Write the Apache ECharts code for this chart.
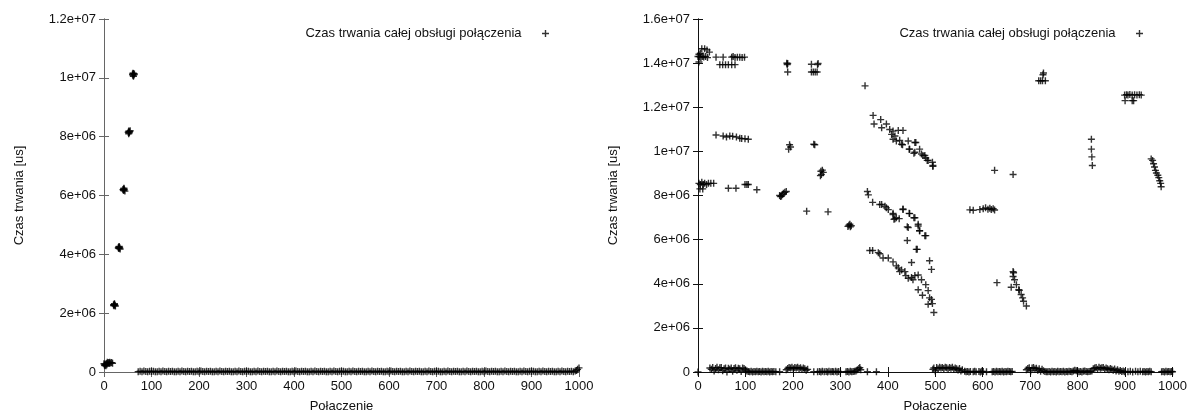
<!DOCTYPE html>
<html>
<head>
<meta charset="utf-8">
<script src="https://cdn.jsdelivr.net/npm/echarts@6/dist/echarts.min.js"></script>
<style>
  html, body { margin: 0; padding: 0; background: #fff; }
  #chart { width: 1190px; height: 418px; }
</style>
</head>
<body>
<div id="chart"></div>
<script>
// series name and axis titles
const seriesName = 'Czas trwania całej obsługi połączenia'
const xTitle = 'Połaczenie'
const yTitle = 'Czas trwania [us]'

// left plot: y axis 0 .. 1.2e7, right plot: 0 .. 1.6e7
const leftYMax = 1.2e7
const rightYMax = 1.6e7

// left plot - the first ~65 connections grow in steps, the rest stay near zero
const leftHigh = [
  [0, 2.8e5], [1, 2.4e5], [2, 2.2e5], [3, 2.6e5], [4, 2.1e5], [5, 2.9e5], [6, 2.5e5], [8, 3.0e5],
  [10, 3.2e5], [12, 3.3e5], [14, 3.1e5], [16, 3.2e5], [18, 3.0e5], [7, 3.3e5], [11, 2.9e5],
  [20, 2.28e6], [21, 2.25e6], [22, 2.3e6], [23, 2.27e6], [24, 2.24e6], [22, 2.32e6], [21, 2.29e6],
  [30, 4.22e6], [31, 4.25e6], [32, 4.2e6], [33, 4.23e6], [34, 4.18e6], [32, 4.27e6], [31, 4.21e6],
  [40, 6.2e6], [41, 6.17e6], [42, 6.22e6], [43, 6.19e6], [44, 6.15e6], [42, 6.25e6], [41, 6.21e6],
  [51, 8.15e6], [52, 8.19e6], [53, 8.13e6], [54, 8.17e6], [55, 8.2e6], [52, 8.1e6], [53, 8.16e6],
  [60, 1.012e7], [61, 1.008e7], [62, 1.015e7], [63, 1.01e7], [64, 1.013e7], [62, 1.005e7], [61, 1.016e7]
]
const leftLow = [
  [72,12000],[76,25000],[80,8000],[84,30000],[88,18000],[92,5000],[96,22000],[100,15000],[104,28000],[108,10000],
  [112,12000],[116,25000],[120,8000],[124,30000],[128,18000],[132,5000],[136,22000],[140,15000],[144,28000],[148,10000],
  [152,12000],[156,25000],[160,8000],[164,30000],[168,18000],[172,5000],[176,22000],[180,15000],[184,28000],[188,10000],
  [192,12000],[196,25000],[200,8000],[204,30000],[208,18000],[212,5000],[216,22000],[220,15000],[224,28000],[228,10000],
  [232,12000],[236,25000],[240,8000],[244,30000],[248,18000],[252,5000],[256,22000],[260,15000],[264,28000],[268,10000],
  [272,12000],[276,25000],[280,8000],[284,30000],[288,18000],[292,5000],[296,22000],[300,15000],[304,28000],[308,10000],
  [312,12000],[316,25000],[320,8000],[324,30000],[328,18000],[332,5000],[336,22000],[340,15000],[344,28000],[348,10000],
  [352,12000],[356,25000],[360,8000],[364,30000],[368,18000],[372,5000],[376,22000],[380,15000],[384,28000],[388,10000],
  [392,12000],[396,25000],[400,8000],[404,30000],[408,18000],[412,5000],[416,22000],[420,15000],[424,28000],[428,10000],
  [432,12000],[436,25000],[440,8000],[444,30000],[448,18000],[452,5000],[456,22000],[460,15000],[464,28000],[468,10000],
  [472,12000],[476,25000],[480,8000],[484,30000],[488,18000],[492,5000],[496,22000],[500,15000],[504,28000],[508,10000],
  [512,12000],[516,25000],[520,8000],[524,30000],[528,18000],[532,5000],[536,22000],[540,15000],[544,28000],[548,10000],
  [552,12000],[556,25000],[560,8000],[564,30000],[568,18000],[572,5000],[576,22000],[580,15000],[584,28000],[588,10000],
  [592,12000],[596,25000],[600,8000],[604,30000],[608,18000],[612,5000],[616,22000],[620,15000],[624,28000],[628,10000],
  [632,12000],[636,25000],[640,8000],[644,30000],[648,18000],[652,5000],[656,22000],[660,15000],[664,28000],[668,10000],
  [672,12000],[676,25000],[680,8000],[684,30000],[688,18000],[692,5000],[696,22000],[700,15000],[704,28000],[708,10000],
  [712,12000],[716,25000],[720,8000],[724,30000],[728,18000],[732,5000],[736,22000],[740,15000],[744,28000],[748,10000],
  [752,12000],[756,25000],[760,8000],[764,30000],[768,18000],[772,5000],[776,22000],[780,15000],[784,28000],[788,10000],
  [792,12000],[796,25000],[800,8000],[804,30000],[808,18000],[812,5000],[816,22000],[820,15000],[824,28000],[828,10000],
  [832,12000],[836,25000],[840,8000],[844,30000],[848,18000],[852,5000],[856,22000],[860,15000],[864,28000],[868,10000],
  [872,12000],[876,25000],[880,8000],[884,30000],[888,18000],[892,5000],[896,22000],[900,15000],[904,28000],[908,10000],
  [912,12000],[916,25000],[920,8000],[924,30000],[928,18000],[932,5000],[936,22000],[940,15000],[944,28000],[948,10000],
  [952,12000],[956,25000],[960,8000],[964,30000],[968,18000],[972,5000],[976,22000],[980,15000],[984,28000],[988,10000],
  [992,30000],[995,50000],[997,90000],[1000,140000]
]

// right plot - scattered durations
const rightHigh = [
  // top-left cluster ~1.4e7
  [0,1.43e7],[3,1.43e7],[6,1.425e7],[9,1.43e7],[12,1.428e7],[16,1.43e7],[20,1.425e7],[2,1.44e7],[5,1.445e7],[2,1.405e7],
  [8,1.465e7],[14,1.465e7],[19,1.46e7],[24,1.45e7],
  [38,1.427e7],[53,1.427e7],[71,1.427e7],[74,1.43e7],[78,1.425e7],[83,1.427e7],[88,1.427e7],[93,1.425e7],[98,1.427e7],
  [46,1.393e7],[52,1.393e7],[58,1.393e7],[64,1.393e7],[71,1.393e7],[78,1.393e7],
  [187,1.40e7],[188,1.393e7],[189,1.398e7],[189,1.36e7],
  [239,1.395e7],[253,1.398e7],[252,1.393e7],[239,1.36e7],[243,1.36e7],[247,1.36e7],[251,1.36e7],
  [352,1.297e7],
  [727,1.347e7],[728,1.355e7],[718,1.32e7],[722,1.32e7],[726,1.32e7],[732,1.32e7],
  [899,1.255e7],[903,1.257e7],[906,1.255e7],[910,1.258e7],[915,1.255e7],[920,1.257e7],[925,1.255e7],[930,1.257e7],[934,1.255e7],
  [900,1.23e7],[915,1.23e7],[918,1.23e7],
  // band ~1.06e7
  [38,1.074e7],[53,1.07e7],[60,1.065e7],[67,1.07e7],[73,1.068e7],[81,1.065e7],[88,1.06e7],[92,1.058e7],[99,1.057e7],[106,1.055e7],
  [193,1.03e7],[195,1.02e7],[191,1.01e7],[244,1.032e7],[246,1.03e7],
  [259,9.1e6],[262,9.15e6],[260,8.95e6],[264,9.05e6],[258,8.9e6],
  // band ~8.4e6
  [2,8.55e6],[5,8.5e6],[8,8.6e6],[11,8.5e6],[14,8.55e6],[18,8.5e6],[22,8.55e6],[27,8.55e6],[33,8.55e6],[4,8.3e6],[10,8.3e6],
  [64,8.33e6],[80,8.33e6],[99,8.5e6],[103,8.5e6],[106,8.5e6],[124,8.26e6],
  [172,8.0e6],[174,7.95e6],[176,7.98e6],[178,8.05e6],[180,8.1e6],[183,8.15e6],[186,8.18e6],
  [229,7.29e6],[274,7.26e6],
  [316,6.6e6],[318,6.65e6],[320,6.7e6],[321,6.58e6],[323,6.63e6],
  // upper falling line
  [369,1.163e7],[385,1.144e7],[397,1.124e7],[371,1.124e7],[387,1.107e7],[404,1.099e7],[411,1.092e7],[422,1.095e7],[432,1.095e7],
  [408,1.077e7],[415,1.07e7],[425,1.05e7],[443,1.047e7],[459,1.04e7],[431,1.03e7],[445,1.01e7],[455,9.91e6],[467,1.01e7],
  [474,9.81e6],[480,9.7e6],[483,9.59e6],[494,9.51e6],[495,9.32e6],
  [411,1.055e7],[418,1.047e7],[429,1.032e7],[446,1.01e7],[457,1.04e7],[457,9.96e6],[471,9.88e6],[478,9.81e6],[485,9.59e6],[495,9.36e6],
  // middle falling line
  [357,8.18e6],[359,8.03e6],[368,7.69e6],[387,7.59e6],[394,7.51e6],[401,7.36e6],[411,7.19e6],[418,6.99e6],[413,6.92e6],[424,6.95e6],
  [432,7.36e6],[445,7.19e6],[455,6.99e6],[464,6.7e6],[467,6.4e6],[480,6.18e6],[441,6.58e6],[441,5.96e6],[462,5.56e6],
  [383,7.59e6],[397,7.44e6],[411,7.14e6],[415,6.95e6],[432,7.39e6],[446,7.18e6],[457,6.99e6],[464,6.62e6],[467,6.4e6],[478,6.18e6],
  [443,6.55e6],[460,5.56e6],[450,4.96e6],[488,5.04e6],[492,4.65e6],
  // lower falling line
  [362,5.51e6],[368,5.51e6],[380,5.41e6],[383,5.36e6],[390,5.17e6],[401,5.17e6],[411,4.99e6],[418,4.81e6],[422,4.72e6],[425,4.55e6],
  [429,4.62e6],[436,4.55e6],[438,4.37e6],[443,4.25e6],[450,4.28e6],[453,4.18e6],[457,4.37e6],[464,4.4e6],[471,4.18e6],[480,3.96e6],
  [464,3.73e6],[473,3.48e6],[485,3.69e6],[488,3.36e6],[492,3.29e6],[485,3.07e6],[494,3.1e6],[497,2.7e6],
  // 570 .. 700
  [573,7.35e6],[580,7.33e6],[594,7.36e6],[601,7.4e6],[606,7.44e6],[611,7.38e6],[615,7.42e6],[618,7.36e6],[622,7.4e6],[625,7.34e6],
  [625,9.14e6],[664,8.95e6],[630,4.05e6],[660,3.84e6],
  [664,4.55e6],[665,4.5e6],[664,4.33e6],[667,4.18e6],[671,3.96e6],[676,3.73e6],[677,3.7e6],[681,3.51e6],[684,3.36e6],[686,3.21e6],[692,2.99e6],
  // 800 .. 1000
  [829,1.055e7],[829,1.01e7],[830,9.75e6],[831,9.36e6],
  [955,9.66e6],[958,9.59e6],[960,9.44e6],[962,9.29e6],[964,9.14e6],[966,9.02e6],[969,8.92e6],[971,8.81e6],[973,8.67e6],[975,8.55e6],[976,8.4e6]
]
const rightLow = [
  [0,0],[25,1.8e5],[28,1.2e5],[31,2e5],[34,5e4],[37,1.6e5],[40,2.1e5],[43,1e5],[46,1.9e5],[49,2e5],[52,6e4],[55,1.5e5],[58,1.8e5],
  [61,0],[64,1.7e5],[67,1.2e5],[70,1.8e5],[73,3e4],[76,1.6e5],[79,1.9e5],[82,8e4],[85,1.7e5],[88,1.5e5],[91,2e4],[94,1.8e5],
  [97,1.6e5],[100,1e5],[103,5e4],
  [106,2e4],[109,1e4],[112,3e4],[115,0],[118,2e4],[121,1e4],[124,3e4],[127,1e4],[130,2e4],[133,0],[136,3e4],[139,1e4],
  [142,2e4],[145,1e4],[148,3e4],[151,0],[154,2e4],[157,1e4],[160,2e4],[164,1e4],[172,1e4],
  [186,1e5],[189,1.6e5],[192,2e5],[195,1.8e5],[198,2.1e5],[201,1.5e5],[204,2e5],[207,1.8e5],[210,2.1e5],[213,1.6e5],
  [216,1.9e5],[219,1.3e5],[222,1.8e5],[225,1.5e5],[228,8e4],[231,1.2e5],[244,1e4],
  [252,1e4],[256,2e4],[259,0],[262,3e4],[266,1e4],[270,2e4],[273,0],[276,3e4],[280,1e4],[283,2e4],[286,1e4],[290,3e4],
  [293,0],[296,2e4],[300,1e4],
  [312,1e4],[315,2e4],[318,0],[321,3e4],[324,1e4],[327,2e4],[330,3e4],[333,5e4],[336,1e5],[339,1.6e5],[341,2e5],[343,1e5],
  [357,1e4],[376,1e4],
  [495,1.2e5],[497,1.8e5],[500,5e4],[503,2e5],[506,1.5e5],[509,2.1e5],[512,1.8e5],[515,2e5],[518,1.6e5],[521,2.1e5],
  [524,1.9e5],[527,1.4e5],[530,2e5],[533,1.7e5],[536,2.1e5],[539,1.2e5],[542,1.8e5],[545,1.5e5],[548,9e4],[551,1.6e5],
  [554,5e4],[557,1e5],
  [562,3e4],[565,1e4],[568,2e4],[571,0],[574,2e4],[580,1e4],[583,3e4],[586,1e4],[592,2e4],[595,0],[598,3e4],[601,2e4],[608,1e4],
  [620,1e4],[623,2e4],[626,0],[629,3e4],[632,1e4],[635,2e4],[638,1e4],[641,3e4],[644,0],[647,2e4],[650,1e4],[653,3e4],
  [656,2e4],[659,1e4],[662,2e4],
  [692,1e5],[695,1.6e5],[698,1.9e5],[701,5e4],[704,1.8e5],[707,2e5],[710,1.4e5],[713,1.7e5],[716,8e4],[719,1.5e5],
  [722,3e4],[725,1.2e5],[728,6e4],[731,2e4],[734,1e4],
  [737,1e4],[740,2e4],[743,0],[746,3e4],[749,1e4],[752,2e4],[755,0],[758,3e4],[761,1e4],[764,2e4],[767,1e4],[770,3e4],
  [773,0],[776,2e4],[779,1e4],[782,3e4],[785,2e4],[788,1e4],[791,5e4],[794,8e4],[797,6e4],[800,3e4],[803,1e4],[806,2e4],
  [809,0],[812,3e4],[815,5e4],[818,2e4],[821,1e4],[824,2e4],[827,3e4],[830,5e4],
  [833,1.5e5],[836,1.8e5],[839,2e5],[842,1.2e5],[845,2.1e5],[848,1.7e5],[851,1.9e5],[854,2e5],[857,1.3e5],[860,1.8e5],
  [863,1.5e5],[866,1e5],[869,1.6e5],[872,1.2e5],[875,8e4],[878,1.4e5],[881,5e4],[884,1e5],[887,3e4],[890,7e4],[893,2e4],
  [896,4e4],[899,1e4],
  [906,1e4],[911,3e4],[916,0],[922,3e4],[927,1e4],[932,3e4],
  [937,1e4],[940,2e4],[943,0],[946,2e4],[949,1e4],[952,3e4],[955,1e4],
  [977,1e4],[980,2e4],[983,0],[986,3e4],[989,1e4],[992,2e4],[995,1e4],[998,2e4],[1000,1e4]
]

const font = 'Liberation Sans, Arial, sans-serif'
// "+" marker, arms a bit thicker than 1px so they stay dark after antialiasing
const plus = 'path://M0,2.8H7V4.2H0Z M2.8,0H4.2V7H2.8Z'

// gnuplot style numbers: 0, 2e+06, 1.2e+07
function gnuFmt(v) {
  if (v === 0) return '0'
  const e = Math.floor(Math.log10(Math.abs(v)))
  const m = +(v / Math.pow(10, e)).toPrecision(6)
  return m + 'e+' + (e < 10 ? '0' + e : e)
}

function xAxes(grid, color) {
  const line = { show: true, lineStyle: { color: color, width: 1 } }
  const tick = { show: true, inside: true, length: 5, lineStyle: { color: color } }
  return [
    {
      type: 'value', gridIndex: grid, min: 0, max: 1000, interval: 100, position: 'bottom',
      name: xTitle, nameLocation: 'middle', nameGap: 28,
      nameTextStyle: { fontFamily: font, fontSize: 13, color: '#111' },
      axisLine: line, axisTick: tick, splitLine: { show: false },
      axisLabel: { margin: 8, fontFamily: font, fontSize: 13, color: '#111', formatter: v => String(v) }
    },
    {
      type: 'value', gridIndex: grid, min: 0, max: 1000, interval: 100, position: 'top',
      axisLine: line, axisTick: tick, splitLine: { show: false }, axisLabel: { show: false }
    }
  ]
}

function yAxes(grid, max, color) {
  const line = { show: true, lineStyle: { color: color, width: 1 } }
  const tick = { show: true, inside: true, length: 5, lineStyle: { color: color } }
  return [
    {
      type: 'value', gridIndex: grid, min: 0, max: max, interval: 2e6, position: 'left',
      name: yTitle, nameLocation: 'middle', nameGap: 78, nameRotate: 90,
      nameTextStyle: { fontFamily: font, fontSize: 13, color: '#111' },
      axisLine: line, axisTick: tick, splitLine: { show: false },
      axisLabel: { margin: 8, fontFamily: font, fontSize: 13, color: '#111', formatter: gnuFmt }
    },
    {
      type: 'value', gridIndex: grid, min: 0, max: max, interval: 2e6, position: 'right',
      axisLine: line, axisTick: tick, splitLine: { show: false }, axisLabel: { show: false }
    }
  ]
}

function legendAt(right) {
  return {
    right: right, top: 22, orient: 'horizontal', align: 'right',
    itemWidth: 38, itemHeight: 7, symbolKeepAspect: true, selectedMode: false,
    textStyle: { fontFamily: font, fontSize: 13, color: '#111' },
    data: [{ name: seriesName, icon: plus }]
  }
}

const chart = echarts.init(document.getElementById('chart'))
chart.setOption({
  animation: false,
  backgroundColor: '#fff',
  grid: [
    { left: 104, top: 19, width: 475, height: 360 },
    { left: 698, top: 19, width: 475, height: 360 }
  ],
  legend: [legendAt(636), legendAt(42)],
  xAxis: xAxes(0, '#666').concat(xAxes(1, '#111')),
  yAxis: yAxes(0, leftYMax, '#666').concat(yAxes(1, rightYMax, '#111')),
  series: [
    {
      name: seriesName, type: 'scatter', xAxisIndex: 0, yAxisIndex: 0,
      symbol: plus, symbolSize: 7, itemStyle: { color: '#000' },
      data: leftHigh.concat(leftLow)
    },
    {
      name: seriesName, type: 'scatter', xAxisIndex: 2, yAxisIndex: 2,
      symbol: plus, symbolSize: 7, itemStyle: { color: '#000' },
      data: rightHigh.concat(rightLow)
    }
  ]
})
</script>
</body>
</html>
